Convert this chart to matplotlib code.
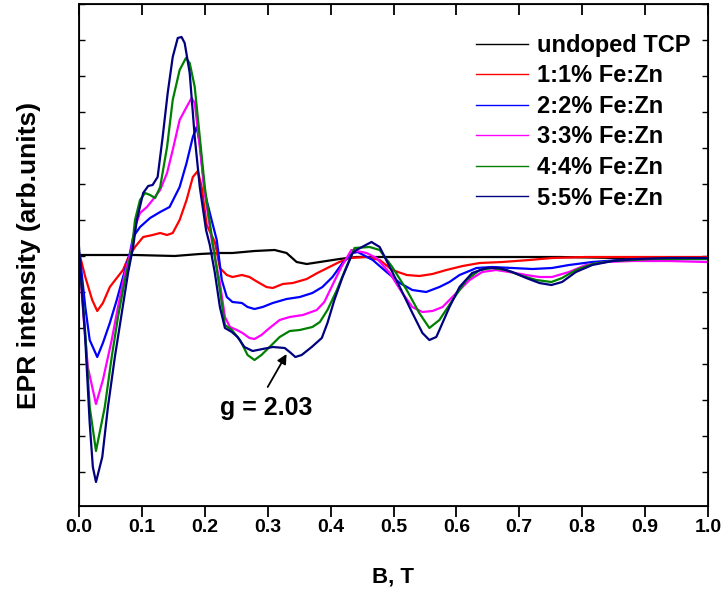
import matplotlib
matplotlib.use("Agg")
import matplotlib.pyplot as plt

# field (T) and EPR intensity (arb. units)
b_undoped = [0.000, 0.089, 0.152, 0.192, 0.224, 0.244, 0.279, 0.311, 0.330, 0.346, 0.362,
             0.383, 0.414, 0.441, 0.483, 0.589, 0.763, 0.859, 0.997]
i_undoped = [1, 1, 0, 2, 3, 3, 5, 6, 3, -6, -8, -6, -3, -1, -1, -1, -1, -2, -2]

b_fe1 = [0.000, 0.002, 0.010, 0.021, 0.029, 0.038, 0.049, 0.060, 0.070, 0.078, 0.089,
         0.102, 0.117, 0.129, 0.140, 0.149, 0.160, 0.171, 0.181, 0.189, 0.195, 0.203,
         0.216, 0.224, 0.235, 0.244, 0.259, 0.271, 0.284, 0.298, 0.308, 0.324, 0.340,
         0.362, 0.379, 0.398, 0.414, 0.430, 0.457, 0.478, 0.498, 0.521, 0.541, 0.562,
         0.584, 0.610, 0.637, 0.673, 0.716, 0.752, 0.806, 0.859, 0.938, 0.997]
i_fe1 = [0, -1, -21, -44, -55, -47, -31, -22, -14, -2, 9,
         19, 21, 23, 21, 23, 36, 56, 79, 85, 69, 31,
         14, -12, -19, -21, -19, -21, -26, -31, -32, -28, -27,
         -23, -17, -11, -6, -2, -1, -4, -14, -19, -20, -18,
         -14, -10, -7, -6, -4, -2, -1, -1, -1, -1]

b_fe2 = [0.000, 0.002, 0.010, 0.017, 0.029, 0.038, 0.049, 0.060, 0.070, 0.081, 0.086,
         0.097, 0.113, 0.129, 0.144, 0.160, 0.171, 0.181, 0.187, 0.192, 0.200, 0.210,
         0.219, 0.227, 0.235, 0.244, 0.259, 0.268, 0.279, 0.292, 0.308, 0.330, 0.351,
         0.371, 0.387, 0.403, 0.419, 0.435, 0.443, 0.467, 0.489, 0.510, 0.530, 0.552,
         0.573, 0.589, 0.605, 0.632, 0.657, 0.689, 0.721, 0.752, 0.779, 0.816, 0.859,
         0.938, 0.997]
i_fe2 = [1, -4, -51, -84, -101, -87, -67, -44, -21, 3, 19,
         29, 38, 44, 49, 69, 93, 119, 129, 113, 63, 38,
         16, -24, -41, -46, -47, -51, -53, -51, -47, -43, -41,
         -37, -31, -21, -7, 3, 4, -4, -16, -27, -34, -36,
         -31, -26, -19, -12, -11, -12, -13, -12, -9, -6, -4,
         -3, -3]

b_fe3 = [0.000, 0.006, 0.014, 0.027, 0.038, 0.052, 0.062, 0.073, 0.083, 0.089, 0.097,
         0.108, 0.117, 0.129, 0.140, 0.149, 0.160, 0.171, 0.179, 0.184, 0.192, 0.200,
         0.211, 0.224, 0.232, 0.240, 0.251, 0.260, 0.271, 0.279, 0.290, 0.303, 0.319,
         0.335, 0.356, 0.378, 0.390, 0.403, 0.417, 0.433, 0.457, 0.473, 0.494, 0.514,
         0.530, 0.546, 0.562, 0.578, 0.600, 0.621, 0.641, 0.663, 0.684, 0.711, 0.732,
         0.752, 0.779, 0.806, 0.838, 0.879, 0.938, 0.997]
i_fe3 = [3, -51, -111, -148, -124, -84, -51, -17, 6, 29, 43,
         49, 56, 66, 83, 106, 136, 149, 158, 153, 109, 63,
         16, -27, -61, -71, -74, -77, -82, -83, -79, -72, -64,
         -61, -59, -54, -46, -29, -11, 6, 3, -2, -17, -37,
         -51, -56, -55, -51, -37, -24, -16, -14, -16, -19, -21,
         -21, -16, -9, -6, -5, -5, -6]

b_fe4 = [0.000, 0.010, 0.017, 0.027, 0.041, 0.052, 0.062, 0.073, 0.084, 0.089, 0.097,
         0.105, 0.113, 0.121, 0.129, 0.140, 0.149, 0.160, 0.170, 0.176, 0.184, 0.192,
         0.200, 0.213, 0.224, 0.232, 0.243, 0.256, 0.268, 0.279, 0.290, 0.303, 0.319,
         0.335, 0.351, 0.371, 0.383, 0.395, 0.410, 0.425, 0.438, 0.462, 0.478, 0.498,
         0.521, 0.541, 0.557, 0.573, 0.594, 0.616, 0.637, 0.657, 0.679, 0.700, 0.727,
         0.751, 0.768, 0.790, 0.816, 0.848, 0.911, 0.997]
i_fe4 = [4, -77, -151, -195, -151, -101, -61, -24, 6, 36, 56,
         63, 61, 58, 69, 109, 156, 186, 198, 193, 169, 119,
         69, 11, -34, -69, -74, -84, -99, -104, -99, -91, -81,
         -75, -74, -71, -66, -54, -34, -11, 8, 9, 6, -11,
         -34, -57, -72, -64, -44, -24, -14, -12, -14, -19, -24,
         -26, -22, -14, -8, -5, -3, -3]

b_fe5 = [0.000, 0.010, 0.017, 0.022, 0.027, 0.037, 0.046, 0.057, 0.068, 0.078, 0.086,
         0.092, 0.102, 0.110, 0.117, 0.125, 0.133, 0.141, 0.149, 0.157, 0.163, 0.168,
         0.176, 0.184, 0.192, 0.202, 0.208, 0.216, 0.224, 0.232, 0.243, 0.252, 0.263,
         0.276, 0.292, 0.308, 0.327, 0.335, 0.344, 0.354, 0.370, 0.386, 0.395, 0.406,
         0.419, 0.435, 0.441, 0.465, 0.478, 0.494, 0.510, 0.530, 0.546, 0.557, 0.568,
         0.573, 0.589, 0.605, 0.625, 0.648, 0.668, 0.689, 0.711, 0.732, 0.751, 0.768,
         0.790, 0.816, 0.848, 0.886, 0.938, 0.997]
i_fe5 = [9, -84, -167, -211, -226, -201, -151, -101, -57, -17, 9,
         36, 63, 70, 71, 79, 119, 163, 199, 218, 219, 213,
         183, 119, 69, 26, 11, -17, -51, -72, -76, -81, -91,
         -95, -93, -91, -92, -96, -101, -99, -91, -82, -67, -44,
         -21, 3, 6, 14, 9, -11, -31, -57, -77, -84, -81,
         -74, -51, -31, -17, -12, -12, -16, -22, -27, -29, -26,
         -16, -9, -5, -3, -2, -2]

labels = ["undoped TCP", "1:1% Fe:Zn", "2:2% Fe:Zn", "3:3% Fe:Zn", "4:4% Fe:Zn", "5:5% Fe:Zn"]
colors = ["black", "#ff0000", "#0000ff", "#ff00ff", "#008000", "#000080"]
xticks = [k / 10 for k in range(11)]

# g-marker: arrow from the label to the dip of the 5% curve
g_text = "g = 2.03"
g_text_pos = (0.298, -152)
g_arrow_tail = (0.300, -131)
g_arrow_head = (0.330, -98)

bold = ["Liberation Sans", "DejaVu Sans"]

fig = plt.figure(figsize=(7.27, 5.96), dpi=100)
ax = fig.add_axes([79 / 727, 1 - 506 / 596, 629 / 727, 502 / 596])

series = [(b_undoped, i_undoped), (b_fe1, i_fe1), (b_fe2, i_fe2),
          (b_fe3, i_fe3), (b_fe4, i_fe4), (b_fe5, i_fe5)]
for (b, inten), lab, c in zip(series, labels, colors):
    ax.plot(b, inten, color=c, lw=1.6, label=lab)

ax.set_xlim(0, 1.0)
ax.set_ylim(-250, 252)
ax.set_xticks(xticks)
ax.set_yticks(range(-216, 253, 36))
ax.set_yticklabels([])
for s in ax.spines.values():
    s.set_linewidth(1.3)
ax.tick_params(axis="x", direction="out", length=8, width=1.3, pad=1)
ax.tick_params(axis="y", direction="in", length=4, width=1.0, right=True)
for t in ax.get_xticklabels():
    t.set_family(bold)
    t.set_fontweight("bold")
    t.set_fontsize(14)

# top axis: inward ticks, no labels
top = ax.twiny()
top.set_xlim(0, 1.0)
top.set_xticks(xticks)
top.tick_params(axis="x", direction="in", length=8, width=1.3, labeltop=False)

ax.set_xlabel("B, T", family=bold, fontweight="bold", fontsize=16, labelpad=22)
ax.set_ylabel("EPR intensity (arb.units)", family=bold, fontweight="bold",
              fontsize=19, labelpad=24)

ax.text(*g_text_pos, g_text, ha="center", va="center", family=bold,
        fontweight="bold", fontsize=18)
ax.annotate("", xy=g_arrow_head, xytext=g_arrow_tail,
            arrowprops=dict(arrowstyle="-|>", color="black", lw=1.3,
                            shrinkA=0, shrinkB=0, mutation_scale=14))

leg = ax.legend(loc="upper right", bbox_to_anchor=(1.006, 0.983), frameon=False,
                prop={"family": bold, "weight": "bold", "size": 17},
                handlelength=2.2, handletextpad=0.4, labelspacing=0.32)
for h in leg.get_lines():
    h.set_linewidth(1.0)

fig.savefig("out.png", dpi=100)
